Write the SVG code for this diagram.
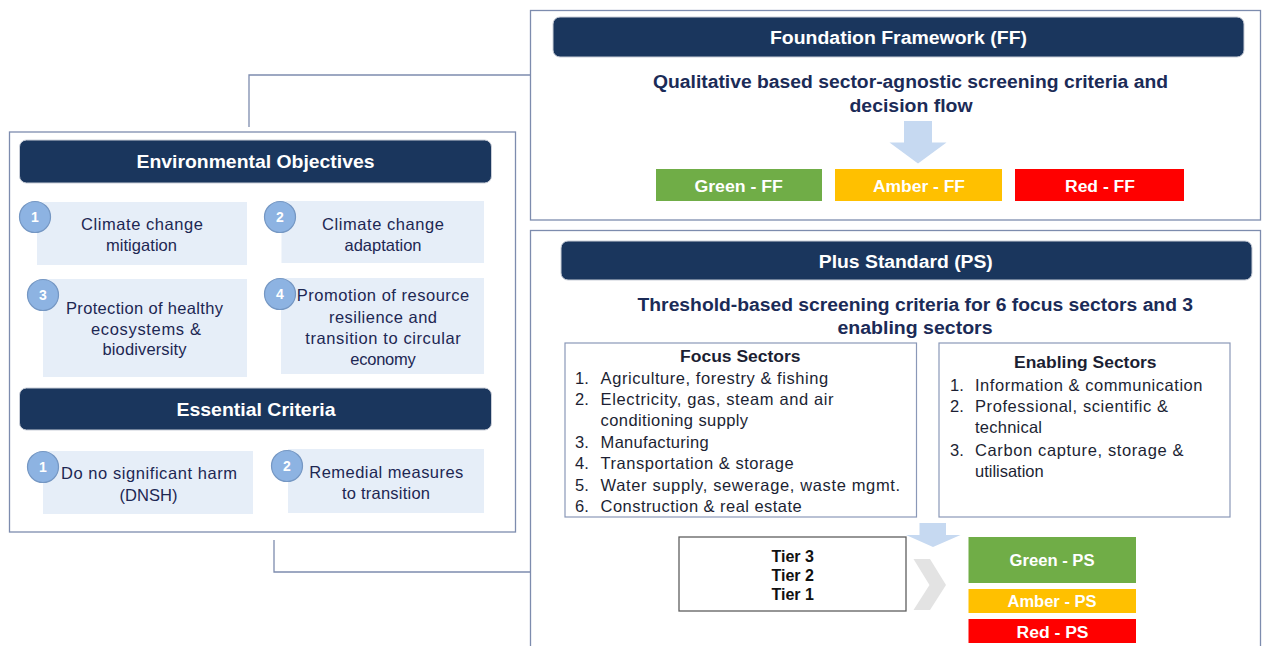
<svg xmlns="http://www.w3.org/2000/svg" width="1263" height="646" viewBox="0 0 1263 646">
  <style>
    .frame { fill: #ffffff; stroke: #7d8cae; stroke-width: 1.3; }
    .hdr { fill: #1a365d; stroke: #c9ced8; stroke-width: 1; }
    .hdr-t { font-family: "Liberation Sans", Arial, sans-serif; font-weight: bold; fill: #ffffff; text-anchor: middle; }
    .sub { fill: #e6eef8; }
    .dot { fill: #8db3e2; stroke: #7597c3; stroke-width: 1.2; }
    .dot-t { font-family: "Liberation Sans", Arial, sans-serif; font-weight: bold; font-size: 14px; fill: #ffffff; text-anchor: middle; }
    .body { font-family: "Liberation Sans", Arial, sans-serif; font-size: 16.5px; fill: #1d2753; text-anchor: middle; }
    .lead { font-family: "Liberation Sans", Arial, sans-serif; font-weight: bold; font-size: 18px; fill: #1b2b57; text-anchor: middle; }
    .list-box { fill: #ffffff; stroke: #8a98b8; stroke-width: 1.2; }
    .list-h { font-family: "Liberation Sans", Arial, sans-serif; font-weight: bold; font-size: 16px; fill: #1c1f33; text-anchor: middle; }
    .list { font-family: "Liberation Sans", Arial, sans-serif; font-size: 16.5px; fill: #1c1f33; }
    .rating-t { font-family: "Liberation Sans", Arial, sans-serif; font-weight: bold; font-size: 16px; fill: #ffffff; text-anchor: middle; }
    .tier { fill: #ffffff; stroke: #5f5f5f; stroke-width: 1.3; }
    .tier-t { font-family: "Liberation Sans", Arial, sans-serif; font-weight: bold; font-size: 16px; fill: #111111; text-anchor: middle; }
    .link { fill: none; stroke: #7d8cae; stroke-width: 1.3; }
    .flow { fill: #c6d9f1; }
  </style>

  <!-- connectors between the objectives panel and the two frameworks -->
  <g id="connectors">
    <path class="link" d="M249,127 V75 H530"/>
    <path class="link" d="M274,540 V572 H530"/>
  </g>

  <!-- left panel: objectives and essential criteria -->
  <g id="objectives-panel">
    <rect class="frame" x="9.5" y="132" width="506" height="400"/>
  </g>

  <g id="environmental-objectives">
    <rect class="hdr" x="19.5" y="140" width="472" height="43" rx="7"/>
    <text class="hdr-t" x="255.5" y="168" font-size="19" textLength="238" lengthAdjust="spacingAndGlyphs">Environmental Objectives</text>
  </g>

  <g id="objective-1">
    <rect class="sub" x="37" y="202" width="210" height="63"/>
    <circle class="dot" cx="35" cy="217" r="15.5"/>
    <text class="dot-t" x="35" y="222">1</text>
    <text class="body" x="142" y="230" textLength="122" lengthAdjust="spacing">Climate change</text>
    <text class="body" x="141.5" y="251" textLength="71" lengthAdjust="spacing">mitigation</text>
  </g>

  <g id="objective-2">
    <rect class="sub" x="281.5" y="201" width="202.5" height="62"/>
    <circle class="dot" cx="280" cy="217" r="15.5"/>
    <text class="dot-t" x="280" y="222">2</text>
    <text class="body" x="383" y="230" textLength="122" lengthAdjust="spacing">Climate change</text>
    <text class="body" x="383" y="251" textLength="77" lengthAdjust="spacing">adaptation</text>
  </g>

  <g id="objective-3">
    <rect class="sub" x="43" y="279" width="204" height="98"/>
    <circle class="dot" cx="43" cy="295" r="15.5"/>
    <text class="dot-t" x="43" y="300">3</text>
    <text class="body" x="144.5" y="314" textLength="157" lengthAdjust="spacing">Protection of healthy</text>
    <text class="body" x="146" y="334.5" textLength="110" lengthAdjust="spacing">ecosystems &amp;</text>
    <text class="body" x="144.5" y="355" textLength="84" lengthAdjust="spacing">biodiversity</text>
  </g>

  <g id="objective-4">
    <rect class="sub" x="281" y="278" width="203" height="96"/>
    <circle class="dot" cx="280" cy="294" r="15.5"/>
    <text class="dot-t" x="280" y="299">4</text>
    <text class="body" x="383" y="301" textLength="172.5" lengthAdjust="spacing">Promotion of resource</text>
    <text class="body" x="383" y="322.5" textLength="108" lengthAdjust="spacing">resilience and</text>
    <text class="body" x="383" y="343.5" textLength="155.5" lengthAdjust="spacing">transition to circular</text>
    <text class="body" x="383" y="364.5" textLength="65.5" lengthAdjust="spacing">economy</text>
  </g>

  <g id="essential-criteria">
    <rect class="hdr" x="19.5" y="388" width="472" height="42" rx="7"/>
    <text class="hdr-t" x="256" y="416" font-size="19" textLength="159" lengthAdjust="spacingAndGlyphs">Essential Criteria</text>
  </g>

  <g id="criterion-1">
    <rect class="sub" x="43" y="451" width="210" height="63"/>
    <circle class="dot" cx="43" cy="467" r="15.5"/>
    <text class="dot-t" x="43" y="472">1</text>
    <text class="body" x="149" y="479" textLength="176" lengthAdjust="spacing">Do no significant harm</text>
    <text class="body" x="148.5" y="501" textLength="58" lengthAdjust="spacing">(DNSH)</text>
  </g>

  <g id="criterion-2">
    <rect class="sub" x="288" y="449" width="196" height="64"/>
    <circle class="dot" cx="287" cy="466" r="15.5"/>
    <text class="dot-t" x="287" y="471">2</text>
    <text class="body" x="386.3" y="478" textLength="154" lengthAdjust="spacing">Remedial measures</text>
    <text class="body" x="386" y="499" textLength="88" lengthAdjust="spacing">to transition</text>
  </g>

  <!-- Foundation Framework -->
  <g id="foundation-framework">
    <rect class="frame" x="530.5" y="10.5" width="730" height="209.5"/>
    <rect class="hdr" x="553" y="17" width="691" height="40" rx="7"/>
    <text class="hdr-t" x="898.5" y="44" font-size="18" textLength="257" lengthAdjust="spacingAndGlyphs">Foundation Framework (FF)</text>
    <text class="lead" x="910.5" y="88" textLength="515" lengthAdjust="spacingAndGlyphs">Qualitative based sector-agnostic screening criteria and</text>
    <text class="lead" x="911" y="111.5" textLength="123" lengthAdjust="spacingAndGlyphs">decision flow</text>
    <polygon class="flow" points="904,121 932,121 932,142.5 946.5,142.5 918,163.5 889.5,142.5 904,142.5"/>
  </g>

  <g id="green-ff">
    <rect x="656" y="169" width="166" height="32" fill="#70ad47"/>
    <text class="rating-t" x="738.7" y="192" textLength="88.5" lengthAdjust="spacingAndGlyphs">Green - FF</text>
  </g>
  <g id="amber-ff">
    <rect x="835" y="169" width="167" height="32" fill="#ffc000"/>
    <text class="rating-t" x="919" y="192" textLength="92" lengthAdjust="spacingAndGlyphs">Amber - FF</text>
  </g>
  <g id="red-ff">
    <rect x="1015" y="169" width="169" height="32" fill="#ff0000"/>
    <text class="rating-t" x="1100" y="192" textLength="70" lengthAdjust="spacingAndGlyphs">Red - FF</text>
  </g>

  <!-- Plus Standard -->
  <g id="plus-standard">
    <rect class="frame" x="530.5" y="230.5" width="730" height="440"/>
    <rect class="hdr" x="561" y="241" width="691" height="39" rx="7"/>
    <text class="hdr-t" x="905.8" y="267.5" font-size="18" textLength="174" lengthAdjust="spacingAndGlyphs">Plus Standard (PS)</text>
    <text class="lead" x="915.3" y="311" textLength="555.5" lengthAdjust="spacingAndGlyphs">Threshold-based screening criteria for 6 focus sectors and 3</text>
    <text class="lead" x="915" y="334.3" textLength="155" lengthAdjust="spacingAndGlyphs">enabling sectors</text>
  </g>

  <g id="focus-sectors">
    <rect class="list-box" x="565" y="343" width="351.5" height="174"/>
    <text class="list-h" x="740.3" y="361.7" textLength="120.5" lengthAdjust="spacingAndGlyphs">Focus Sectors</text>
    <g class="list">
      <text x="575" y="384">1.</text>
      <text x="600.6" y="384" textLength="227.5" lengthAdjust="spacing">Agriculture, forestry &amp; fishing</text>
      <text x="575" y="405">2.</text>
      <text x="600.6" y="405" textLength="233" lengthAdjust="spacing">Electricity, gas, steam and air</text>
      <text x="600.6" y="426" textLength="147.5" lengthAdjust="spacing">conditioning supply</text>
      <text x="575" y="447.5">3.</text>
      <text x="600.6" y="447.5" textLength="108" lengthAdjust="spacing">Manufacturing</text>
      <text x="575" y="469.3">4.</text>
      <text x="600.6" y="469.3" textLength="193" lengthAdjust="spacing">Transportation &amp; storage</text>
      <text x="575" y="491">5.</text>
      <text x="600.6" y="491" textLength="299.5" lengthAdjust="spacing">Water supply, sewerage, waste mgmt.</text>
      <text x="575" y="512.3">6.</text>
      <text x="600.6" y="512.3" textLength="201" lengthAdjust="spacing">Construction &amp; real estate</text>
    </g>
  </g>

  <g id="enabling-sectors">
    <rect class="list-box" x="939" y="343" width="291" height="174"/>
    <text class="list-h" x="1085.3" y="368.3" textLength="142.5" lengthAdjust="spacingAndGlyphs">Enabling Sectors</text>
    <g class="list">
      <text x="950" y="390.7">1.</text>
      <text x="975" y="390.7" textLength="227.5" lengthAdjust="spacing">Information &amp; communication</text>
      <text x="950" y="412.3">2.</text>
      <text x="975" y="412.3" textLength="193" lengthAdjust="spacing">Professional, scientific &amp;</text>
      <text x="975" y="433.3" textLength="67" lengthAdjust="spacing">technical</text>
      <text x="950" y="455.7">3.</text>
      <text x="975" y="455.7" textLength="208.5" lengthAdjust="spacing">Carbon capture, storage &amp;</text>
      <text x="975" y="476.7" textLength="68.7" lengthAdjust="spacing">utilisation</text>
    </g>
  </g>

  <!-- down arrow into the tier assessment, then chevron to ratings -->
  <polygon class="flow" points="919.5,523 946,523 946,535 960.5,535 933,547 906,535 919.5,535"/>
  <polygon fill="#e3e3e3" points="913.5,559 930,559 946,585 930,610 913.5,610 929.5,585"/>

  <g id="tiers">
    <rect class="tier" x="679" y="537" width="227" height="74"/>
    <text class="tier-t" x="792.7" y="561.5">Tier 3</text>
    <text class="tier-t" x="792.7" y="580.5">Tier 2</text>
    <text class="tier-t" x="792.7" y="599.5">Tier 1</text>
  </g>

  <g id="green-ps">
    <rect x="968.5" y="537" width="167.5" height="46" fill="#70ad47"/>
    <text class="rating-t" x="1052" y="566" textLength="85" lengthAdjust="spacingAndGlyphs">Green - PS</text>
  </g>
  <g id="amber-ps">
    <rect x="968.5" y="589" width="167.5" height="24" fill="#ffc000"/>
    <text class="rating-t" x="1052" y="607" textLength="89" lengthAdjust="spacingAndGlyphs">Amber - PS</text>
  </g>
  <g id="red-ps">
    <rect x="968.5" y="619" width="167.5" height="24" fill="#ff0000"/>
    <text class="rating-t" x="1052.5" y="637.7" textLength="72" lengthAdjust="spacingAndGlyphs">Red - PS</text>
  </g>
</svg>
